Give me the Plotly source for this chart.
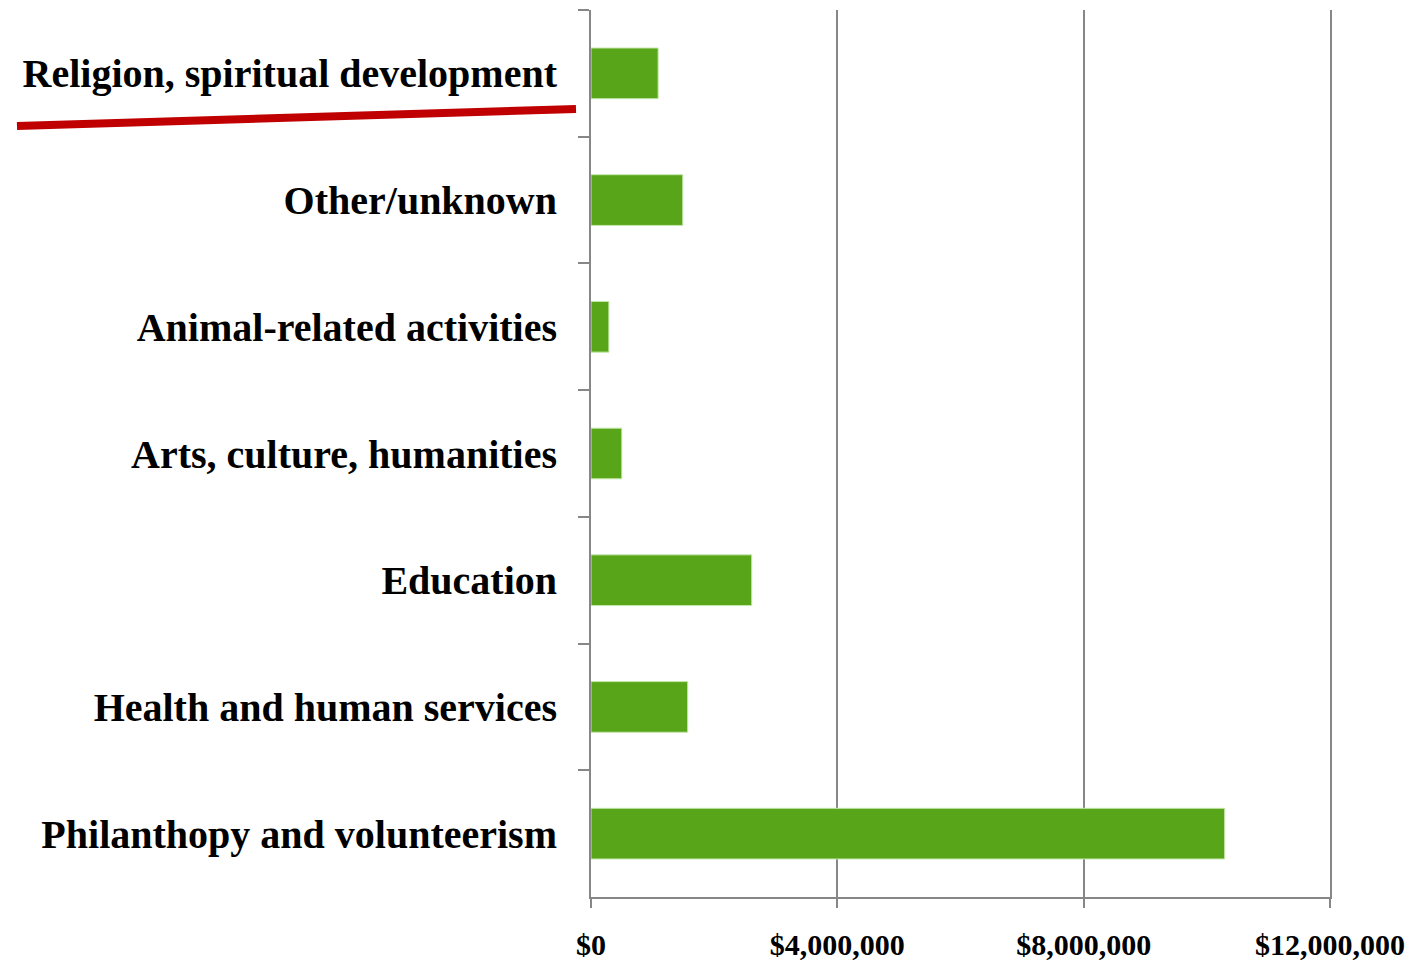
import plotly.graph_objects as go

categories = [
    "Religion, spiritual development",
    "Other/unknown",
    "Animal-related activities",
    "Arts, culture, humanities",
    "Education",
    "Health and human services",
    "Philanthopy and volunteerism",
]
amounts = [1090000, 1490000, 290000, 500000, 2610000, 1570000, 10290000]
x_tickvals = [0, 4000000, 8000000, 12000000]
x_ticktext = ["$0", "$4,000,000", "$8,000,000", "$12,000,000"]

FONT = "Liberation Serif"
AXIS_COLOR = "#878787"

fig = go.Figure()
fig.add_trace(go.Bar(
    y=categories,
    x=amounts,
    orientation="h",
    marker=dict(color="#59a519", line=dict(color="#c4e8ab", width=1)),
    hoverinfo="x+y",
))

fig.update_layout(
    width=1408,
    height=955,
    margin=dict(l=583, r=86, t=2, b=66),
    paper_bgcolor="white",
    plot_bgcolor="white",
    bargap=0.6,
    showlegend=False,
    font=dict(family=FONT, color="black"),
    xaxis=dict(
        range=[0, 12000000],
        tickvals=x_tickvals,
        ticktext=x_ticktext,
        showgrid=True,
        gridcolor=AXIS_COLOR,
        gridwidth=2,
        zeroline=False,
        showline=True,
        linecolor=AXIS_COLOR,
        linewidth=2,
        ticks="outside",
        ticklen=9,
        tickwidth=2,
        tickcolor=AXIS_COLOR,
        tickfont=dict(family=FONT, size=30, color="black", weight="bold"),
        ticklabelstandoff=11,
        automargin=False,
        fixedrange=True,
    ),
    yaxis=dict(
        type="category",
        autorange="reversed",
        showline=True,
        mirror=True,
        linecolor=AXIS_COLOR,
        linewidth=2,
        showgrid=False,
        ticks="outside",
        tickson="boundaries",
        ticklen=11,
        tickwidth=2,
        tickcolor=AXIS_COLOR,
        tickfont=dict(family=FONT, size=40, color="black", weight="bold"),
        ticklabelstandoff=24,
        automargin=False,
        fixedrange=True,
    ),
    shapes=[
        dict(
            type="line",
            xref="x domain",
            yref="y domain",
            x0=(17 - 591) / 739,
            x1=(576 - 591) / 739,
            y0=1 - (126 - 10) / 887,
            y1=1 - (109 - 10) / 887,
            line=dict(color="#c00000", width=8),
        )
    ],
)

fig.write_html("out.html")
